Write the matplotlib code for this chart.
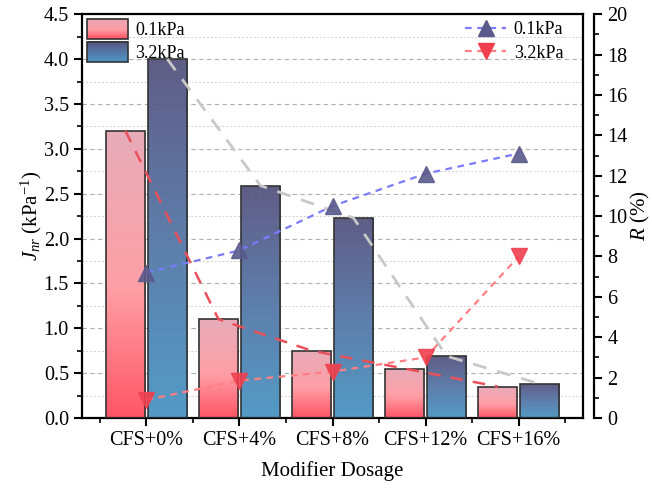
import numpy as np
import matplotlib
matplotlib.use("Agg")
import matplotlib.pyplot as plt
from matplotlib.colors import LinearSegmentedColormap
from matplotlib.patches import Rectangle
from matplotlib.legend_handler import HandlerBase
from matplotlib.ticker import MultipleLocator

plt.rcParams['font.family'] = ['Liberation Serif', 'DejaVu Serif']
plt.rcParams['mathtext.fontset'] = 'custom'
plt.rcParams['mathtext.rm'] = 'Liberation Serif'
plt.rcParams['mathtext.it'] = 'Liberation Serif:italic'

groups = ["CFS+0%", "CFS+4%", "CFS+8%", "CFS+12%", "CFS+16%"]
series = ["0.1kPa", "3.2kPa"]
jnr_01 = [3.20, 1.10, 0.75, 0.55, 0.35]
jnr_32 = [4.00, 2.59, 2.23, 0.69, 0.38]
r_01 = [7.2, 8.3, 10.5, 12.1, 13.1]
r_32 = [0.9, 1.85, 2.3, 3.0, 8.0]

cmap_01 = LinearSegmentedColormap.from_list(
    "pinkred", [(0, "#ff4c5d"), (0.45, "#ff9aa2"), (1, "#e6a8b6")])
cmap_32 = LinearSegmentedColormap.from_list(
    "bluepurple", [(0, "#4a96c3"), (0.5, "#5577a6"), (1, "#575480")])


def gradient_bar(ax, x, w, h, cmap):
    rect = Rectangle((x - w / 2, 0), w, h, facecolor="none",
                     edgecolor="#333333", linewidth=1.2, zorder=3)
    ax.add_patch(rect)
    grad = np.linspace(0, 1, 256).reshape(-1, 1)
    im = ax.imshow(grad, cmap=cmap, origin="lower", aspect="auto",
                   extent=[x - w / 2, x + w / 2, 0, h], zorder=2, alpha=0.95)
    im.set_clip_path(rect)


class GradientHandler(HandlerBase):
    def __init__(self, cmap):
        super().__init__()
        self.cmap = cmap

    def create_artists(self, legend, orig_handle, xdescent, ydescent,
                       width, height, fontsize, trans):
        arts = []
        n = 30
        for i in range(n):
            r = Rectangle((-xdescent, -ydescent + height * i / n), width,
                          height / n + 0.3, facecolor=self.cmap((i + 0.5) / n),
                          edgecolor="none", transform=trans)
            arts.append(r)
        arts.append(Rectangle((-xdescent, -ydescent), width, height,
                              facecolor="none", edgecolor="#333333",
                              linewidth=1.2, transform=trans))
        return arts


fig = plt.figure(figsize=(6.52, 4.9), dpi=100)
ax = fig.add_axes([0.126, 0.147, 0.768, 0.824])

x = np.arange(len(groups))
w = 0.42
off = 0.225
for i in range(len(groups)):
    gradient_bar(ax, x[i] - off, w, jnr_01[i], cmap_01)
    gradient_bar(ax, x[i] + off, w, jnr_32[i], cmap_32)

# trend lines across the bar tops
ax.plot(x - off, jnr_01, color="#e8505b", lw=1.8, ls=(0, (5, 4)), zorder=4)
ax.plot(x + off, jnr_32, color="#c8c8c8", lw=2.0, ls=(0, (5, 4)), zorder=4)

ax.set_xlim(-0.69, 4.69)
ax.set_ylim(0, 4.5)
ax.set_xticks(x)
ax.set_xticklabels(groups)
ax.set_xticks(np.arange(-0.5, 5, 1), minor=True)
ax.yaxis.set_major_locator(MultipleLocator(0.5))
ax.yaxis.set_minor_locator(MultipleLocator(0.25))
ax.yaxis.set_major_formatter(matplotlib.ticker.FormatStrFormatter("%.1f"))
ax.grid(axis="y", which="major", color="#b0b0b0", ls=(0, (4, 3)), lw=0.8)
ax.grid(axis="y", which="minor", color="#d0d0d0", ls=(0, (2, 2)), lw=0.7)
ax.set_axisbelow(True)
ax.tick_params(which="major", direction="out", length=6, width=1.5,
               labelsize=14.5)
ax.tick_params(which="minor", direction="out", length=3.5, width=1.2)
for s in ax.spines.values():
    s.set_linewidth(1.6)
ax.set_ylabel("$J_{nr}$ (kPa$^{-1}$)", fontsize=15, labelpad=0)
ax.set_xlabel("Modifier Dosage", fontsize=15, labelpad=8)

b1 = Rectangle((0, 0), 1, 1)
b2 = Rectangle((0, 0), 1, 1)
ax.legend([b1, b2], series, loc="upper left", frameon=False, fontsize=13,
          handlelength=2.3, handleheight=1.35, handletextpad=0.4,
          labelspacing=0.15, borderaxespad=0.1, borderpad=0.15,
          handler_map={b1: GradientHandler(cmap_01),
                       b2: GradientHandler(cmap_32)})

ax2 = ax.twinx()
ax2.set_ylim(0, 20)
ax2.yaxis.set_major_locator(MultipleLocator(2))
ax2.yaxis.set_minor_locator(MultipleLocator(1))
ax2.spines["right"].set_position(("outward", 8))
ax2.spines["right"].set_linewidth(1.6)
for k in ("top", "bottom", "left"):
    ax2.spines[k].set_visible(False)
ax2.tick_params(which="major", direction="out", length=6, width=1.5,
                labelsize=14.5)
ax2.tick_params(which="minor", direction="out", length=3.5, width=1.2)
ax2.set_ylabel("$R$ (%)", fontsize=15, labelpad=1)

ax2.plot(x, r_01, color="#7b7bff", lw=1.6, ls=(0, (3, 2.5)), zorder=5)
ax2.plot(x, r_01, ls="none", marker="^", ms=11.5, color="#5a5a8c",
         alpha=0.9, zorder=6)
ax2.plot(x, r_32, color="#ff7f82", lw=1.6, ls=(0, (3, 2.5)), zorder=5)
ax2.plot(x, r_32, ls="none", marker="v", ms=11.5, color="#f0404f",
         alpha=0.9, zorder=6)

h1 = ax2.plot([], [], color="#7b7bff", lw=1.6, ls=(0, (3, 2.5)), marker="^",
              ms=11.5, mfc="#5a5a8c", mec="#5a5a8c")[0]
h2 = ax2.plot([], [], color="#ff7f82", lw=1.6, ls=(0, (3, 2.5)), marker="v",
              ms=11.5, mfc="#f0404f", mec="#f0404f")[0]
ax2.legend([h1, h2], series, loc="upper right", frameon=False, fontsize=13,
           handlelength=2.3, handletextpad=0.4, labelspacing=0.35,
           borderaxespad=0.2, borderpad=0.2, bbox_to_anchor=(0.975, 1.0))

fig.savefig("out.png", dpi=100)
